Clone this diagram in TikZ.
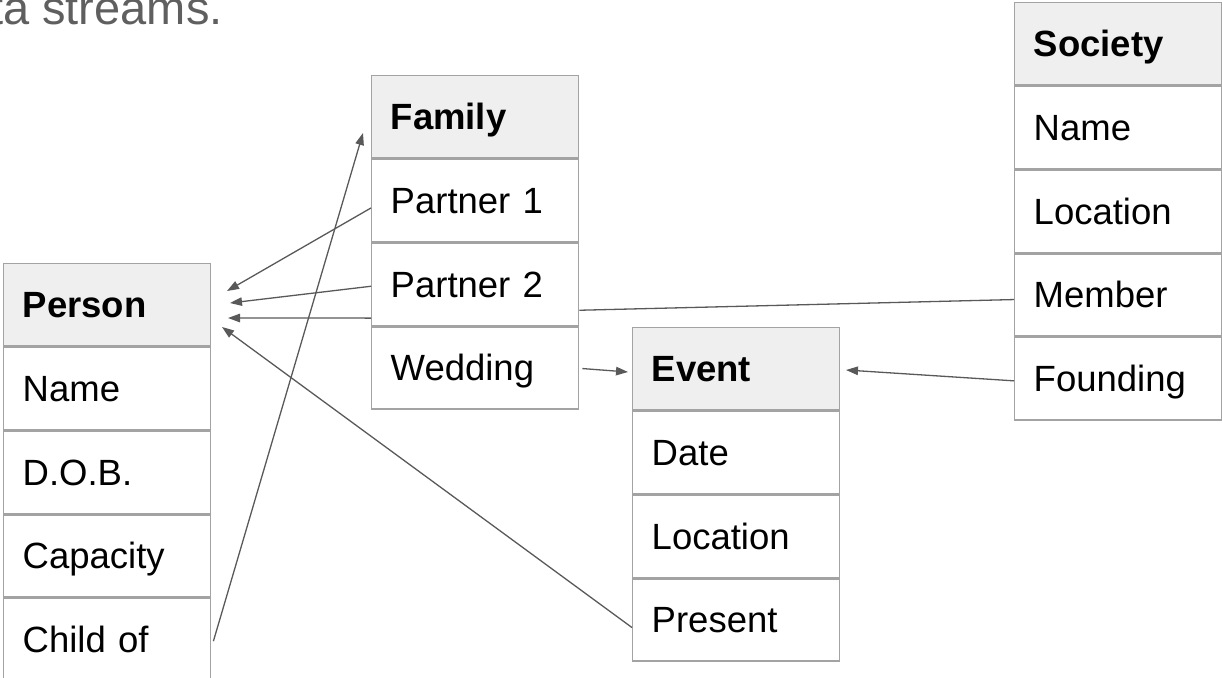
\documentclass[tikz,border=0pt]{standalone}
\usepackage{fontspec}
\setmainfont{Liberation Sans}
\usetikzlibrary{arrows.meta}

\definecolor{rule}{HTML}{A3A3A3}
\definecolor{hdrfill}{HTML}{EFEFEF}
\definecolor{linkgray}{HTML}{595959}
\definecolor{titlegray}{HTML}{5F5F5F}

\tikzset{
  cell/.style={draw=rule, line width=1.4pt, fill=white, rectangle,
    minimum width=207pt, minimum height=82.3pt, text width=169pt,
    inner xsep=19pt, inner ysep=0pt, align=left,
    text height=26pt, text depth=0pt,
    font=\fontsize{36.5}{40}\selectfont, anchor=north west},
  head/.style={cell, fill=hdrfill, font=\fontsize{36.5}{40}\selectfont\bfseries},
  below cell/.style={cell, anchor=north, at={(#1.south)}},
  link/.style={draw=linkgray, line width=1.3pt, -{Triangle[length=12pt,width=8.5pt]}},
  plain link/.style={draw=linkgray, line width=1.3pt},
}

\begin{document}
\begin{tikzpicture}[x=1pt, y=-1pt]
\useasboundingbox (0,0) rectangle (1222,677);

% heading line running in from the left edge
\begin{scope}
  \clip (0,0) rectangle (1222,677);
  \node[anchor=base west, inner sep=0pt, text=titlegray,
        font=\fontsize{47}{50}\selectfont] (title) at (-10,25) {ta streams.};
\end{scope}

% Person
\node[head] (p0) at (3,263) {Person};
\node[below cell=p0] (p1) {Name};
\node[below cell=p1] (p2) {D.O.B.};
\node[below cell=p2] (p3) {Capacity};
\node[below cell=p3] (p4) {Child of};

% Family
\node[head] (f0) at (371,75) {Family};
\node[below cell=f0] (f1) {Partner 1};
\node[below cell=f1] (f2) {Partner 2};
\node[below cell=f2] (f3) {Wedding};

% Event
\node[head] (e0) at (632,327) {Event};
\node[below cell=e0] (e1) {Date};
\node[below cell=e1] (e2) {Location};
\node[below cell=e2] (e3) {Present};

% Society
\node[head] (s0) at (1014,2) {Society};
\node[below cell=s0] (s1) {Name};
\node[below cell=s1] (s2) {Location};
\node[below cell=s2] (s3) {Member};
\node[below cell=s3] (s4) {Founding};

% arrow tips that stop short of their tables
\coordinate (pt1) at (227,291);
\coordinate (pt2) at (230,303);
\coordinate (pt3) at (228,318);
\coordinate (pt4) at (222,327);
\coordinate (ft)  at (363,133);
\coordinate (et)  at (628,372);
\coordinate (st)  at (846,370);

% references
\draw[link] ([yshift=-7.4pt]f1.west) -- (pt1);
\draw[link] ([yshift=-2pt]f2.west) -- (pt2);
\draw[link] ([yshift=8pt]f2.south west) -- (pt3);
\draw[link] ([yshift=-7.6pt]e3.west) -- (pt4);
\draw[link] ([xshift=2pt,yshift=-1.5pt]p4.east) -- (ft);
\draw[link] ([xshift=3pt,yshift=-0.6pt]f3.east) -- (et);
\draw[plain link] ([yshift=-26pt]f2.east) -- ([yshift=-4.6pt]s3.west);
\draw[link] ([yshift=-2.2pt]s4.west) -- (st);
\end{tikzpicture}
\end{document}
